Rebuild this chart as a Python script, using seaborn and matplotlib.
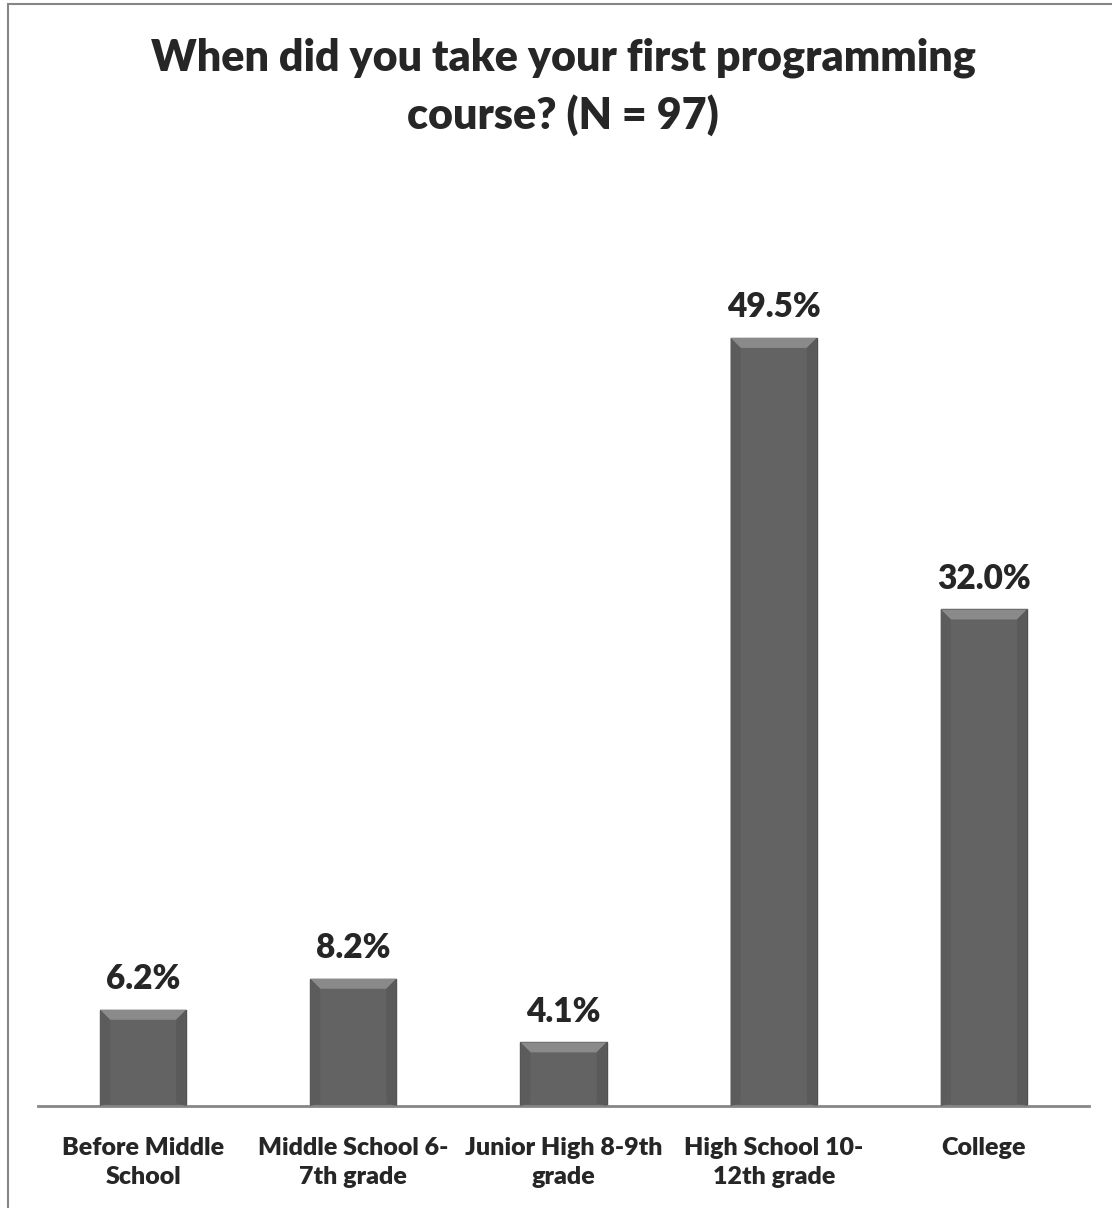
import matplotlib
matplotlib.use("Agg")
import matplotlib.pyplot as plt
from matplotlib.patches import Polygon, Rectangle
import seaborn as sns

# data
categories = [
    "Before Middle\nSchool",
    "Middle School 6-\n7th grade",
    "Junior High 8-9th\ngrade",
    "High School 10-\n12th grade",
    "College",
]
percentages = [6.2, 8.2, 4.1, 49.5, 32.0]
value_labels = [f"{v:.1f}%" for v in percentages]
title = "When did you take your first programming\ncourse? (N = 97)"

sns.set_style("white")
plt.rcParams["font.family"] = ["Lato", "DejaVu Sans"]
WEIGHT = "heavy"

W, H = 1112, 1208
fig = plt.figure(figsize=(W / 100, H / 100), dpi=100, facecolor="white")
ax = fig.add_axes([38 / W, (H - 1106) / H, 1051 / W, 931 / H])

sns.barplot(
    x=categories,
    y=percentages,
    color="#636363",
    saturation=1,
    width=0.41,
    edgecolor="#4f4f4f",
    linewidth=1.0,
    ax=ax,
)

ax.set_xlim(-0.5, len(categories) - 0.5)
ax.set_ylim(0, 60)
ax.set_yticks([])
for side in ["top", "left", "right"]:
    ax.spines[side].set_visible(False)
ax.spines["bottom"].set_color("#868686")
ax.spines["bottom"].set_linewidth(2)
ax.tick_params(axis="x", length=0, pad=22, labelsize=18)
for lbl in ax.get_xticklabels():
    lbl.set_fontweight(WEIGHT)
    lbl.set_linespacing(1.42)

# bevel effect, built from each bar's own geometry
fig.canvas.draw()
inv = ax.transData.inverted()
for bar in ax.patches:
    x0, y0 = bar.get_x(), bar.get_y()
    x1, y1 = x0 + bar.get_width(), y0 + bar.get_height()
    (px0, py0), (px1, py1) = ax.transData.transform([(x0, y0), (x1, y1)])
    d = 10
    (ix0, iy1), (ix1, iy0) = inv.transform([(px0 + d, py1 - d), (px1 - d, py0 + 3)])
    ax.add_patch(Polygon([(x0, y1), (x1, y1), (ix1, iy1), (ix0, iy1)],
                         closed=True, facecolor="#8a8a8a", edgecolor="none", zorder=3))
    ax.add_patch(Polygon([(x0, y1), (ix0, iy1), (ix0, iy0), (x0, y0)],
                         closed=True, facecolor="#5c5c5c", edgecolor="none", zorder=3))
    ax.add_patch(Polygon([(x1, y1), (ix1, iy1), (ix1, iy0), (x1, y0)],
                         closed=True, facecolor="#5a5a5a", edgecolor="none", zorder=3))

for i, (v, txt) in enumerate(zip(percentages, value_labels)):
    ax.annotate(txt, (i, v), xytext=(0, 15), textcoords="offset points",
                ha="center", va="baseline", fontsize=24, fontweight=WEIGHT)

fig.text(563 / W, 1 - 38 / H, title, ha="center", va="top",
         fontsize=31, fontweight=WEIGHT, linespacing=1.45)

fig.patches.append(Rectangle((8 / W, -0.05), 1.2, 1.05 - 4 / H, transform=fig.transFigure,
                             fill=False, edgecolor="#868686", linewidth=1.5))

fig.savefig("out.png", dpi=100, facecolor="white")
